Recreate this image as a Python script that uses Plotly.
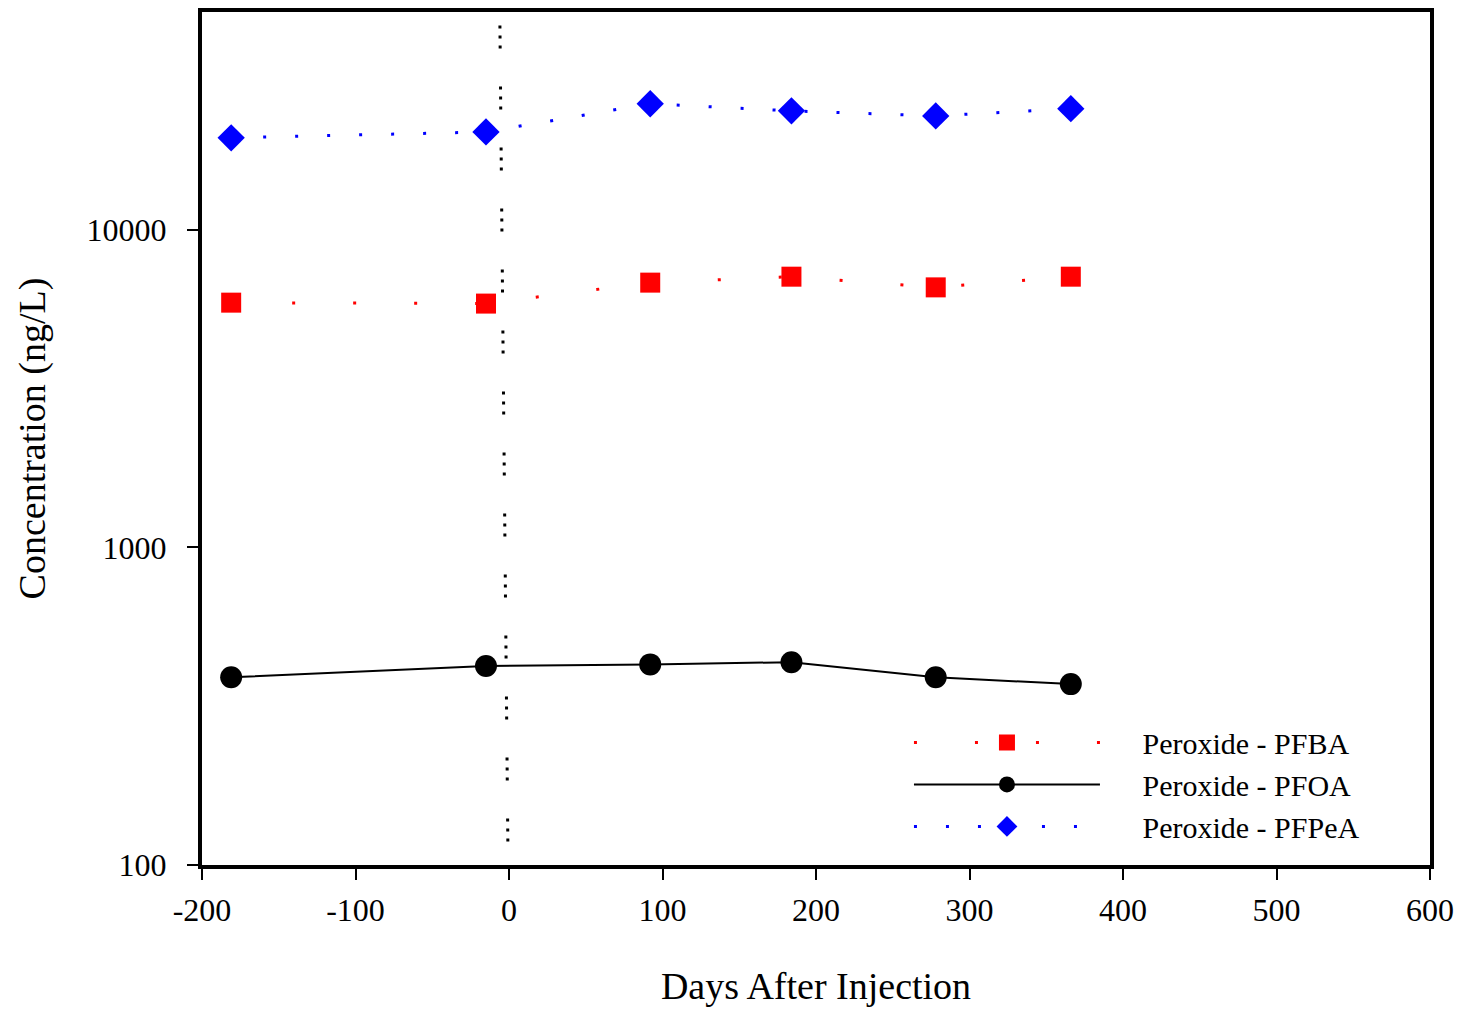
import plotly.graph_objects as go

days = [-181, -15, 92, 184, 278, 366]
pfba = [5890, 5850, 6810, 7110, 6580, 7110]
pfoa = [390, 423, 428, 435, 390, 371]
pfpea = [19450, 20300, 24900, 23650, 22800, 24030]

inj_x = [-6, -0.6]
inj_y = [48420, 100]

x_ticks = [-200, -100, 0, 100, 200, 300, 400, 500, 600]
y_ticks = [100, 1000, 10000]

FONT = "Liberation Serif, Times New Roman, serif"
PAD = "\u00a0" * 5

fig = go.Figure()

fig.add_trace(go.Scatter(
    x=inj_x, y=inj_y, mode="lines", showlegend=False,
    line=dict(color="black", width=3,
              dash="0px,13.5px,3px,7px,3px,7px,3px,24.5px"),
    hoverinfo="skip"))

fig.add_trace(go.Scatter(
    x=days, y=pfba, mode="lines+markers", name=PAD + "Peroxide - PFBA",
    line=dict(color="#ff0000", width=3, dash="3px,58px"),
    marker=dict(symbol="square", size=20, color="#ff0000")))

fig.add_trace(go.Scatter(
    x=days, y=pfoa, mode="lines+markers", name=PAD + "Peroxide - PFOA",
    line=dict(color="black", width=2),
    marker=dict(symbol="circle", size=22, color="black")))

fig.add_trace(go.Scatter(
    x=days, y=pfpea, mode="lines+markers", name=PAD + "Peroxide - PFPeA",
    line=dict(color="#0000ff", width=3, dash="3px,29px"),
    marker=dict(symbol="diamond", size=21, color="#0000ff")))

fig.update_layout(
    width=1455, height=1003,
    margin=dict(l=194, r=33, t=0, b=146),
    paper_bgcolor="white", plot_bgcolor="white",
    font=dict(family=FONT, size=30, color="black"),
    legend=dict(
        x=0.5757, y=0.0945, xanchor="left", yanchor="middle",
        itemwidth=186, font=dict(size=30, family=FONT),
        bgcolor="rgba(0,0,0,0)"),
)

fig.update_xaxes(
    range=[-200, 600], tickvals=x_ticks, ticktext=[str(v) for v in x_ticks],
    showgrid=False, zeroline=False,
    showline=True, linewidth=4, linecolor="black", mirror=True,
    ticks="outside", ticklen=11, tickwidth=2, tickcolor="black",
    ticklabelstandoff=3,
    tickfont=dict(size=32, family=FONT),
    title=dict(text="Days After Injection", font=dict(size=38, family=FONT), standoff=46),
)

fig.update_yaxes(
    type="log", range=[2, 4.685], tickvals=y_ticks, ticktext=[str(v) for v in y_ticks],
    showgrid=False, zeroline=False,
    showline=True, linewidth=4, linecolor="black", mirror=True,
    ticks="outside", ticklen=11, tickwidth=2, tickcolor="black",
    ticklabelstandoff=14,
    tickfont=dict(size=32, family=FONT),
    title=dict(text="Concentration (ng/L)", font=dict(size=38, family=FONT), standoff=30),
)

fig.write_html("out.html")
